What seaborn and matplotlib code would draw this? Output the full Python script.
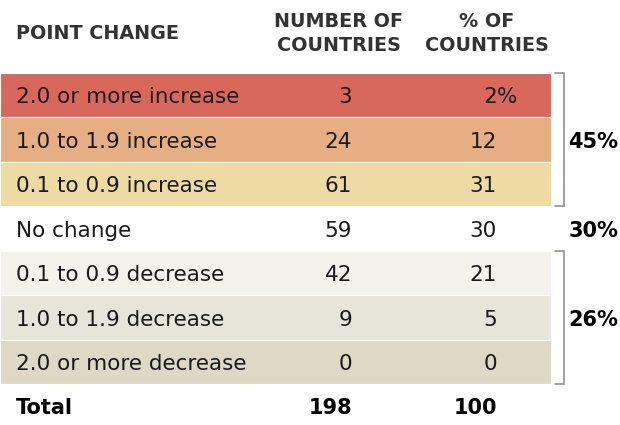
import matplotlib
matplotlib.use("Agg")
import matplotlib.pyplot as plt
import seaborn as sns
import pandas as pd

# Table contents
categories = ["2.0 or more increase", "1.0 to 1.9 increase", "0.1 to 0.9 increase",
              "No change", "0.1 to 0.9 decrease", "1.0 to 1.9 decrease",
              "2.0 or more decrease"]
num_countries = [3, 24, 61, 59, 42, 9, 0]
pct_countries = [2, 12, 31, 30, 21, 5, 0]
row_colors = ["#D8685B", "#E6AF83", "#EEDBA4", "#FFFFFF", "#F3F2EB", "#E7E5D9", "#DDD9C6"]
total_num = 198
total_pct = 100
groups = [("45%", 0, 2), ("30%", 3, 3), ("26%", 4, 6)]  # label, first row, last row

# layout (pixels)
ROW0 = 95.0
PITCH = 44.5
TABLE_RIGHT = 551
NUM_RIGHT = 352
PCT_RIGHT = 497


def r(py):
    """pixel y -> row units"""
    return (py - ROW0) / PITCH


sns.set_style("white")
plt.rcParams["font.family"] = ["DejaVu Sans"]

fig = plt.figure(figsize=(6.2, 4.25), dpi=100)
ax = fig.add_axes([0, 0, 1, 1])

df = pd.DataFrame({
    "row": list(range(len(categories))),
    "span": [TABLE_RIGHT] * len(categories),
    "label": categories,
})
sns.barplot(data=df, x="span", y="row", hue="label", orient="h",
            palette=dict(zip(categories, row_colors)), native_scale=True,
            width=1.0, dodge=False, legend=False, saturation=1,
            edgecolor="white", linewidth=0.8, ax=ax)

base = 8 / PITCH  # baseline offset from row centre
txt = "#1a1a1a"
fs = 15.5
for i, (cat, n, p) in enumerate(zip(categories, num_countries, pct_countries)):
    ax.text(16, i + base, cat, fontsize=fs, color=txt, va="baseline", ha="left")
    ax.text(NUM_RIGHT, i + base, str(n), fontsize=fs, color=txt, va="baseline", ha="right")
    ax.text(PCT_RIGHT, i + base, str(p), fontsize=fs, color=txt, va="baseline", ha="right")
    if i == 0:
        ax.text(PCT_RIGHT, i + base, "%", fontsize=fs, color=txt, va="baseline", ha="left")

# total row
tr = len(categories)
ax.text(16, tr + base, "Total", fontsize=15, fontweight="heavy", color="black", va="baseline")
ax.text(NUM_RIGHT, tr + base, str(total_num), fontsize=15, fontweight="heavy",
        color="black", va="baseline", ha="right")
ax.text(PCT_RIGHT, tr + base, str(total_pct), fontsize=15, fontweight="heavy",
        color="black", va="baseline", ha="right")

# headers
hc = "#333333"
hs = 13.8
ax.text(16, r(39), "POINT CHANGE", fontsize=hs, fontweight="bold", color=hc, va="baseline")
ax.text(339, r(27), "NUMBER OF", fontsize=hs, fontweight="bold", color=hc, va="baseline", ha="center")
ax.text(339, r(51), "COUNTRIES", fontsize=hs, fontweight="bold", color=hc, va="baseline", ha="center")
ax.text(487, r(27), "% OF", fontsize=hs, fontweight="bold", color=hc, va="baseline", ha="center")
ax.text(487, r(51), "COUNTRIES", fontsize=hs, fontweight="bold", color=hc, va="baseline", ha="center")

# brackets and group shares
for lab, a, b in groups:
    mid = (a + b) / 2
    if b > a:
        ax.plot([555, 564, 564, 555], [a - 0.5, a - 0.5, b + 0.5, b + 0.5],
                color="#999999", lw=1.3, solid_joinstyle="miter")
    ax.text(618, mid + base, lab, fontsize=15, fontweight="heavy", color="black",
            va="baseline", ha="right")

ax.set_xlim(0, 620)
ax.set_ylim(r(425), r(0))
ax.axis("off")

fig.savefig("out.png", dpi=100)
